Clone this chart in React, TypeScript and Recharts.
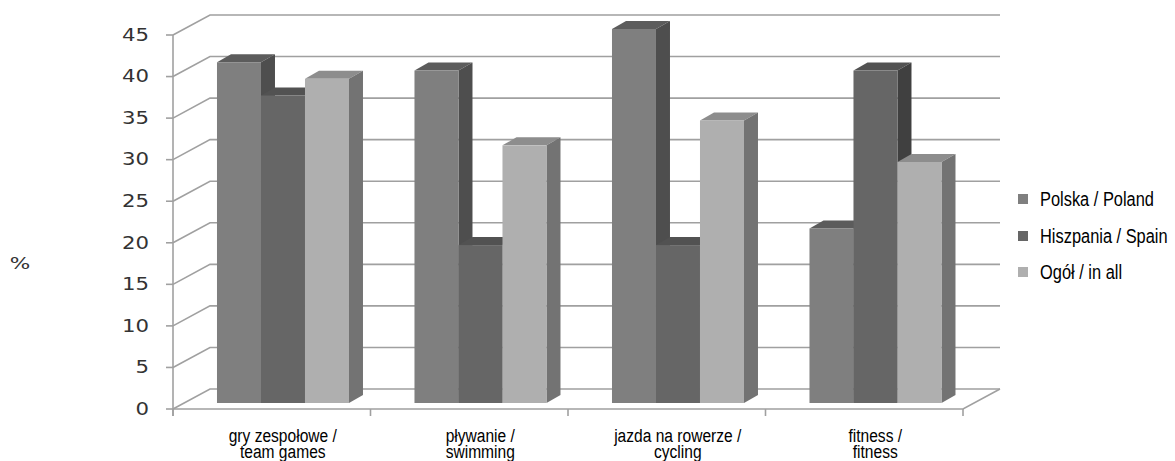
import React from "react";
import { Bar, BarChart, CartesianGrid, Legend, XAxis, YAxis } from "recharts";

const categories = [
  "gry zespołowe /\nteam games",
  "pływanie /\nswimming",
  "jazda na rowerze /\ncycling",
  "fitness /\nfitness",
];
const polska = [41, 40, 45, 21];
const hiszpania = [37, 19, 19, 40];
const ogol = [39, 31, 34, 29];
const seriesNames = ["Polska / Poland", "Hiszpania / Spain", "Ogół / in all"];
const yTicks = [0, 5, 10, 15, 20, 25, 30, 35, 40, 45];

const data = categories.map((name, i) => ({
  name,
  polska: polska[i],
  hiszpania: hiszpania[i],
  ogol: ogol[i],
}));

// plot area = the plane the bars stand on (half way into the box)
const W = 1175;
const H = 461;
const PLOT_LEFT = 184;
const PLOT_RIGHT = 974;
const PLOT_TOP = 29;
const PLOT_BOTTOM = 403;
const Y_AXIS_W = 60;
const X_AXIS_H = 40;

// offsets from the bar plane to the front edge and to the back wall
const FRONT_DX = -11;
const FRONT_DY = 6;
const BACK_DX = 26;
const BACK_DY = -14;
// depth of each bar box
const BOX_DX = 14;
const BOX_DY = -8;

const BAND = (PLOT_RIGHT - PLOT_LEFT) / categories.length;
const GRID = "#a0a0a0";
const SANS = "'Liberation Sans', Arial, sans-serif";
// no condensed face available, so the regular one is squeezed
const SQUEEZE = 0.82;

const FACES = [
  { front: "#7f7f7f", top: "#5c5c5c", side: "#4e4e4e" },
  { front: "#666666", top: "#525252", side: "#404040" },
  { front: "#afafaf", top: "#8d8d8d", side: "#737373" },
];

const makeBox = (face: { front: string; top: string; side: string }) =>
  function Box(props: any) {
    const { x, y, width, height } = props;
    if (width == null || height == null) return <g />;
    const r = x + width;
    return (
      <g>
        <polygon
          points={`${x},${y} ${x + BOX_DX},${y + BOX_DY} ${r + BOX_DX},${y + BOX_DY} ${r},${y}`}
          fill={face.top}
        />
        <polygon
          points={`${r},${y} ${r + BOX_DX},${y + BOX_DY} ${r + BOX_DX},${y + height + BOX_DY} ${r},${y + height}`}
          fill={face.side}
        />
        <rect x={x} y={y} width={width} height={height} fill={face.front} />
      </g>
    );
  };

// side wall diagonal + back wall line for every tick, floor on the 0 line
function wallLine(props: any) {
  const y = props.y1;
  const yf = y + FRONT_DY;
  const yb = y + BACK_DY;
  const xf = PLOT_LEFT + FRONT_DX;
  const xb = PLOT_LEFT + BACK_DX;
  const xr = PLOT_RIGHT + BACK_DX;
  const isFloor = Math.abs(y - PLOT_BOTTOM) < 0.5;
  return (
    <g key={`wall-${props.index}`}>
      <polyline
        points={`${xf},${yf} ${xb},${yb} ${xr},${yb}`}
        fill="none"
        stroke={GRID}
        strokeWidth={1.6}
      />
      {isFloor && (
        <>
          <polyline
            points={`${xf},${yf} ${PLOT_RIGHT + FRONT_DX},${yf} ${xr},${yb}`}
            fill="none"
            stroke={GRID}
            strokeWidth={1.6}
          />
          <line
            x1={xf}
            x2={xf}
            y1={PLOT_TOP + FRONT_DY}
            y2={yf + 7}
            stroke={GRID}
            strokeWidth={1.6}
          />
        </>
      )}
    </g>
  );
}

function YTick({ y, payload }: any) {
  const yf = y + FRONT_DY;
  const xf = PLOT_LEFT + FRONT_DX;
  return (
    <g>
      <line x1={xf - 7} x2={xf} y1={yf} y2={yf} stroke={GRID} strokeWidth={1.6} />
      <text
        transform={`translate(${xf - 24},${yf}) scale(1.25,1)`}
        textAnchor="end"
        dominantBaseline="central"
        fontFamily="'DejaVu Sans', sans-serif"
        fontSize={17}
        fill="#333"
      >
        {payload.value}
      </text>
    </g>
  );
}

function XTick({ x, payload, index }: any) {
  const lines = String(payload.value).split("\n");
  const left = x + FRONT_DX - BAND / 2;
  const floorY = PLOT_BOTTOM + FRONT_DY;
  return (
    <g>
      <line x1={left} x2={left} y1={floorY} y2={floorY + 7} stroke={GRID} strokeWidth={1.6} />
      {index === categories.length - 1 && (
        <line
          x1={left + BAND}
          x2={left + BAND}
          y1={floorY}
          y2={floorY + 7}
          stroke={GRID}
          strokeWidth={1.6}
        />
      )}
      <text
        transform={`translate(${x},442) scale(${SQUEEZE},1)`}
        textAnchor="middle"
        fontFamily={SANS}
        fontSize={19}
        fill="#000"
      >
        {lines.map((line, i) => (
          <tspan key={i} x={0} dy={i === 0 ? 0 : 16}>
            {line}
          </tspan>
        ))}
      </text>
    </g>
  );
}

function PercentLabel() {
  return (
    <text
      transform="translate(20,263) scale(1.35,1)"
      textAnchor="middle"
      dominantBaseline="central"
      fontFamily="'DejaVu Sans', sans-serif"
      fontSize={16}
      fill="#333"
    >
      %
    </text>
  );
}

function LegendBox({ payload }: any) {
  const items = [...(payload || [])].sort(
    (a: any, b: any) => seriesNames.indexOf(a.value) - seriesNames.indexOf(b.value)
  );
  return (
    <div>
      {items.map((entry: any) => (
        <div
          key={entry.value}
          style={{ display: "flex", alignItems: "center", height: 36.5, whiteSpace: "nowrap" }}
        >
          <span
            style={{
              display: "inline-block",
              flexShrink: 0,
              width: 10,
              height: 10,
              marginLeft: 8,
              marginRight: 12,
              background: entry.color,
            }}
          />
          <span
            style={{
              display: "inline-block",
              flexShrink: 0,
              width: 130,
              fontFamily: SANS,
              fontSize: 20,
              color: "#000",
              lineHeight: 1,
              transform: `scaleX(${SQUEEZE})`,
              transformOrigin: "left center",
            }}
          >
            {entry.value}
          </span>
        </div>
      ))}
    </div>
  );
}

export default function App() {
  const keys = ["polska", "hiszpania", "ogol"];
  return (
    <div style={{ position: "absolute", left: 0, top: 0, background: "#fff" }}>
      <BarChart
        width={W}
        height={H}
        data={data}
        margin={{
          top: PLOT_TOP,
          right: W - PLOT_RIGHT,
          bottom: H - PLOT_BOTTOM - X_AXIS_H,
          left: PLOT_LEFT - Y_AXIS_W,
        }}
        barCategoryGap="16.7%"
        barGap={0}
      >
        <CartesianGrid vertical={false} horizontal={wallLine} />
        <XAxis
          dataKey="name"
          height={X_AXIS_H}
          axisLine={false}
          tickLine={false}
          interval={0}
          tick={<XTick />}
        />
        <YAxis
          width={Y_AXIS_W}
          domain={[0, 45]}
          ticks={yTicks}
          axisLine={false}
          tickLine={false}
          tick={<YTick />}
          label={<PercentLabel />}
        />
        <Legend
          layout="vertical"
          align="center"
          verticalAlign="middle"
          wrapperStyle={{ left: 1010, top: 181, width: 165 }}
          content={<LegendBox />}
        />
        {keys.map((k, i) => (
          <Bar
            key={k}
            dataKey={k}
            name={seriesNames[i]}
            fill={FACES[i].front}
            shape={makeBox(FACES[i])}
            isAnimationActive={false}
          />
        ))}
      </BarChart>
    </div>
  );
}
